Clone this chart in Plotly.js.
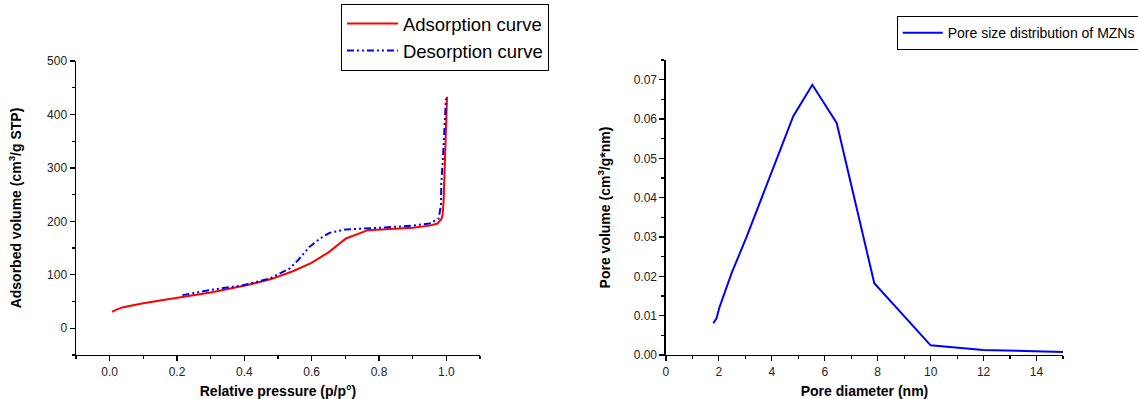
<!DOCTYPE html>
<html><head><meta charset="utf-8">
<script src="https://cdn.plot.ly/plotly-3.0.1.min.js"></script>
<style>html,body{margin:0;padding:0;background:#fff}#chart{width:1138px;height:399px}</style>
</head><body><div id="chart"></div>
<script>
const adsP = [0.007,0.02,0.04,0.07,0.10,0.15,0.208,0.30,0.406,0.48,0.544,0.598,0.65,0.702,0.767,0.85,0.90,0.95,0.974,0.985,0.989,0.992,0.994,0.997,0.999,1.002];
const adsV = [30.5,35,39.5,43.5,47,52,57.5,67,80.5,92,106.7,122,142,168,183.5,186,188,192,196,204,212,240,277,340,402,433];
const desP = [0.216,0.307,0.396,0.475,0.534,0.559,0.593,0.625,0.653,0.702,0.801,0.90,0.95,0.977,0.984,0.985,0.99,0.994,0.999];
const desV = [62,72.4,80.5,93,111.7,127,152,168,178.5,185,188,192,196,205,230,271,320,371,430];
const poreD = [1.79,1.91,2.01,2.48,3.05,4.81,5.53,6.45,7.87,10.0,11.98,15.0];
const poreV = [0.00807,0.0093,0.0119,0.0208,0.0301,0.0607,0.0687,0.059,0.01825,0.00246,0.00127,0.00076];

const F = 'Liberation Sans, Arial, sans-serif';
const tickFont = {family:F,size:12,color:'#222'};
const titleFont = {family:F,size:14,color:'#000',weight:'bold'};
function ax(extra){
  return Object.assign({showline:true,linecolor:'#000',linewidth:1.5,ticks:'outside',ticklen:5,tickwidth:1.2,tickcolor:'#000',
    showgrid:false,zeroline:false,tickfont:tickFont,mirror:false,fixedrange:true},extra);
}
const traces = [
  {x:adsP,y:adsV,type:'scatter',mode:'lines',name:'Adsorption curve',line:{color:'#ff0000',width:2},xaxis:'x',yaxis:'y',legend:'legend'},
  {x:desP,y:desV,type:'scatter',mode:'lines',name:'Desorption curve',line:{color:'#0000ff',width:2,dash:'7px,3px,2px,3px,2px,3px'},xaxis:'x',yaxis:'y',legend:'legend'},
  {x:poreD,y:poreV,type:'scatter',mode:'lines',name:'Pore size distribution of MZNs',line:{color:'#0000ff',width:2},xaxis:'x2',yaxis:'y2',legend:'legend2'}
];
const layout = {
  width:1138,height:399,margin:{l:0,r:0,t:0,b:0,autoexpand:false},paper_bgcolor:'#fff',plot_bgcolor:'#fff',
  showlegend:true,
  xaxis: ax({domain:[0.0668,0.4218],range:[-0.1,1.1],dtick:0.2,tick0:0,tickformat:'.1f',
    minor:{dtick:0.1,tick0:0,ticklen:3,ticks:'outside',tickcolor:'#000',showgrid:false},
    title:{text:'Relative pressure (p/p°)',font:titleFont,standoff:10},anchor:'y'}),
  yaxis: ax({domain:[0.1103,0.8471],range:[-50,500],dtick:100,tick0:0,
    minor:{dtick:50,tick0:0,ticklen:3,ticks:'outside',tickcolor:'#000',showgrid:false},
    title:{text:'Adsorbed volume (cm<sup>3</sup>/g STP)',font:titleFont,standoff:22},anchor:'x'}),
  xaxis2: ax({domain:[0.5852,0.9341],range:[0,15],dtick:2,tick0:0,
    minor:{dtick:1,tick0:0,ticklen:3,ticks:'outside',tickcolor:'#000',showgrid:false},
    title:{text:'Pore diameter (nm)',font:titleFont,standoff:10},anchor:'y2'}),
  yaxis2: ax({domain:[0.1103,0.8496],range:[0,0.075],dtick:0.01,tick0:0,tickformat:'.2f',
    minor:{dtick:0.005,tick0:0,ticklen:3,ticks:'outside',tickcolor:'#000',showgrid:false},
    title:{text:'Pore volume (cm<sup>3</sup>/g*nm)',font:titleFont,standoff:20},anchor:'x2'}),
  legend:{x:0.2996,y:0.906,xanchor:'left',yanchor:'middle',bordercolor:'#000',borderwidth:1,bgcolor:'#fff',
    font:{family:F,size:18.5,color:'#000'},tracegroupgap:0,itemwidth:51},
  legend2:{x:0.788,y:0.917,xanchor:'left',yanchor:'middle',bordercolor:'#000',borderwidth:1,bgcolor:'#fff',
    font:{family:F,size:14,color:'#000'},itemwidth:40}
};
Plotly.newPlot('chart',traces,layout,{displayModeBar:false,staticPlot:true});
</script></body></html>
